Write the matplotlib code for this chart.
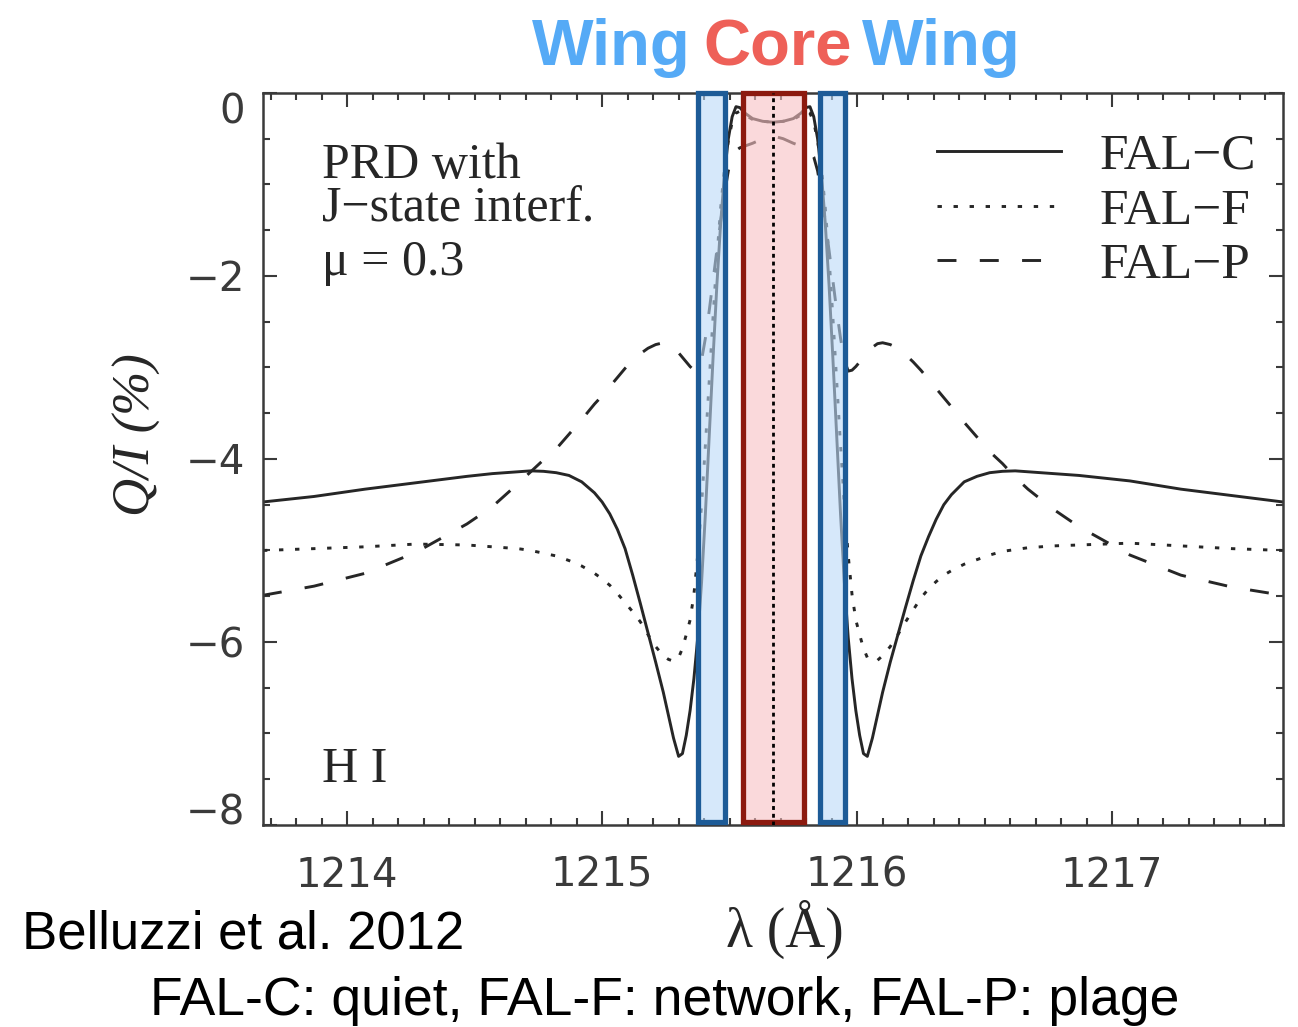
import numpy as np
import matplotlib.pyplot as plt
from matplotlib.patches import Rectangle
from matplotlib.ticker import MultipleLocator

# H I Lyman-alpha Q/I profiles at mu = 0.3 (PRD with J-state interference)
line_center = 1215.67

# offsets from line centre (A)
dlam = [-2.0, -1.8, -1.6, -1.4, -1.2, -1.1, -1.0, -0.95, -0.9, -0.85, -0.8, -0.75, -0.7,
        -0.67, -0.64, -0.61, -0.58, -0.55, -0.52, -0.49, -0.46, -0.43, -0.41, -0.39, -0.37,
        -0.355, -0.34, -0.325, -0.31, -0.295, -0.28, -0.265, -0.25, -0.235, -0.22, -0.205,
        -0.19, -0.175, -0.16, -0.145, -0.13, -0.11, -0.08, -0.04, 0.0,
        0.04, 0.08, 0.11, 0.13, 0.145, 0.16, 0.175, 0.19, 0.205, 0.22, 0.235, 0.25, 0.265,
        0.28, 0.295, 0.31, 0.325, 0.34, 0.355, 0.37, 0.39, 0.41, 0.43, 0.46, 0.49, 0.52,
        0.55, 0.58, 0.61, 0.64, 0.67, 0.7, 0.75, 0.8, 0.85, 0.9, 0.95, 1.0, 1.1, 1.2, 1.4,
        1.6, 1.8, 2.0]

fal_c = [-4.47, -4.41, -4.33, -4.26, -4.19, -4.16, -4.14, -4.13, -4.135, -4.15, -4.18, -4.25, -4.37,
         -4.47, -4.60, -4.77, -4.98, -5.27, -5.58, -5.90, -6.22, -6.55, -6.80, -7.05, -7.25,
         -7.22, -7.02, -6.75, -6.40, -5.95, -5.35, -4.60, -3.75, -2.90, -2.10, -1.42,
         -0.88, -0.50, -0.26, -0.15, -0.16, -0.22, -0.28, -0.31, -0.32,
         -0.31, -0.28, -0.22, -0.16, -0.15, -0.26, -0.50, -0.88, -1.42, -2.10, -2.90, -3.75, -4.60,
         -5.35, -5.95, -6.40, -6.75, -7.02, -7.22, -7.25, -7.05, -6.80, -6.55, -6.22, -5.92, -5.62,
         -5.33, -5.06, -4.85, -4.66, -4.50, -4.39, -4.25, -4.19, -4.15, -4.135, -4.13, -4.14, -4.16, -4.18, -4.24,
         -4.33, -4.40, -4.47]

fal_f = [-5.00, -4.98, -4.96, -4.93, -4.94, -4.96, -4.98, -5.00, -5.03, -5.06, -5.11, -5.17, -5.25,
         -5.31, -5.38, -5.47, -5.57, -5.67, -5.78, -5.92, -6.05, -6.15, -6.19, -6.21, -6.17,
         -6.07, -5.92, -5.76, -5.48, -5.05, -4.50, -3.85, -3.15, -2.45, -1.80, -1.25,
         -0.82, -0.52, -0.32, -0.22, -0.20, -0.24, -0.29, -0.31, -0.32,
         -0.31, -0.29, -0.24, -0.20, -0.22, -0.32, -0.52, -0.82, -1.25, -1.80, -2.45, -3.15, -3.85,
         -4.50, -5.05, -5.48, -5.76, -5.92, -6.07, -6.17, -6.21, -6.20, -6.15, -6.05, -5.92, -5.78,
         -5.65, -5.52, -5.42, -5.34, -5.27, -5.22, -5.15, -5.10, -5.05, -5.01, -4.99, -4.97, -4.95, -4.94, -4.92,
         -4.95, -4.98, -5.00]

fal_p = [-5.49, -5.39, -5.25, -5.02, -4.71, -4.52, -4.27, -4.14, -4.01, -3.89, -3.73, -3.57, -3.40,
         -3.31, -3.21, -3.11, -3.01, -2.92, -2.85, -2.79, -2.75, -2.73, -2.74, -2.78, -2.84,
         -2.89, -2.94, -2.99, -3.03, -3.04, -2.92, -2.68, -2.38, -2.05, -1.72, -1.40,
         -1.10, -0.85, -0.70, -0.63, -0.60, -0.58, -0.55, -0.50, -0.47,
         -0.50, -0.55, -0.58, -0.60, -0.63, -0.70, -0.85, -1.10, -1.40, -1.72, -2.05, -2.38, -2.68,
         -2.92, -3.04, -3.03, -2.99, -2.94, -2.89, -2.84, -2.78, -2.74, -2.73, -2.75, -2.79, -2.86,
         -2.94, -3.03, -3.13, -3.23, -3.33, -3.43, -3.60, -3.76, -3.92, -4.05, -4.20, -4.33, -4.55, -4.74, -5.05,
         -5.27, -5.40, -5.49]

# wavelength bands marked as wing / core
wing_bands = [(1215.375, 1215.482), (1215.854, 1215.952)]
core_band = (1215.552, 1215.790)

wavelength = line_center + np.array(dlam)

serif = 'Liberation Serif'
sans = 'Liberation Sans'
ink = '#262626'

fig = plt.figure(figsize=(12.98, 10.27), dpi=100)
ax = fig.add_axes([0.2026, 0.1967, 0.7858, 0.7128])

ax.plot(wavelength, fal_c, color=ink, lw=2.1, label='FAL\u2212C', zorder=2)
ax.plot(wavelength, fal_f, color=ink, lw=2.1, ls=(0, (1.5, 4.0)), label='FAL\u2212F', zorder=2)
ax.plot(wavelength, fal_p, color=ink, lw=2.1, ls=(0, (6.5, 8.0)), label='FAL\u2212P', zorder=2)

ax.set_xlim(line_center - 2.0, line_center + 2.0)
ax.set_ylim(-8, 0)

# shaded bands
for x0, x1 in wing_bands:
    ax.add_patch(Rectangle((x0, -7.97), x1 - x0, 7.97, facecolor=(187/255, 217/255, 248/255, 0.6),
                           edgecolor='#1d5b97', lw=3.8, zorder=3, clip_on=False))
ax.add_patch(Rectangle((core_band[0], -7.97), core_band[1] - core_band[0], 7.97,
                       facecolor=(247/255, 193/255, 195/255, 0.6),
                       edgecolor='#8c1a0f', lw=3.8, zorder=3, clip_on=False))
ax.axvline(line_center, color='black', lw=2.0, ls=(0, (1.4, 1.4)), zorder=4)

# axes styling
ax.set_xticks([1214, 1215, 1216, 1217])
ax.set_yticks([-8, -6, -4, -2, 0])
ax.xaxis.set_minor_locator(MultipleLocator(0.1))
ax.yaxis.set_minor_locator(MultipleLocator(0.5))
ax.tick_params(which='both', direction='in', top=True, right=True, color='#3a3a3a', width=1.5)
ax.tick_params(which='major', length=10)
ax.tick_params(which='minor', length=5)
ax.tick_params(axis='x', pad=22)
ax.tick_params(axis='y', pad=13)
for lab in ax.get_xticklabels() + ax.get_yticklabels():
    lab.set_fontfamily('DejaVu Sans')
    lab.set_fontsize(29)
    lab.set_color('#3a3a3a')
ylabels = ax.get_yticklabels()
ylabels[0].set_verticalalignment('baseline')
ylabels[-1].set_verticalalignment('top')
for sp in ax.spines.values():
    sp.set_linewidth(1.8)
    sp.set_color('#3a3a3a')

ax.set_ylabel('Q/I (%)', fontfamily=serif, fontstyle='italic', fontsize=38, color=ink)
ax.yaxis.set_label_coords(-0.10, 0.533)
ax.set_xlabel('\u03bb (\u00c5)', fontfamily=serif, fontsize=40, color=ink, va='top')
ax.xaxis.set_label_coords(0.512, -0.102)

ax.text(0.0578, 0.8839, 'PRD with', transform=ax.transAxes,
        fontfamily=serif, fontsize=36, color=ink, va='baseline', ha='left')
ax.text(0.0578, 0.8238, 'J\u2212state interf.', transform=ax.transAxes,
        fontfamily=serif, fontsize=36, color=ink, va='baseline', ha='left')
ax.text(0.0578, 0.7514, '\u03bc = 0.3', transform=ax.transAxes,
        fontfamily=serif, fontsize=36, color=ink, va='baseline', ha='left')
ax.text(0.0578, 0.0587, 'H I', transform=ax.transAxes, fontfamily=serif, fontsize=36,
        color=ink, va='baseline', ha='left')

leg = ax.legend(loc='upper right', bbox_to_anchor=(0.9735, 0.9454), frameon=False,
                prop={'family': serif, 'size': 37}, handlelength=2.43, handletextpad=0.74,
                labelspacing=0.15, borderpad=0, borderaxespad=0)
for t in leg.get_texts():
    t.set_color(ink)

# header words over the bands
fig.text(0.4707, 0.9367, 'Wing', color='#55aaf6', fontfamily=sans, fontweight='bold',
         fontsize=47, ha='center', va='baseline')
fig.text(0.5994, 0.9367, 'Core', color='#ee6058', fontfamily=sans, fontweight='bold',
         fontsize=47, ha='center', va='baseline')
fig.text(0.7250, 0.9367, 'Wing', color='#55aaf6', fontfamily=sans, fontweight='bold',
         fontsize=47, ha='center', va='baseline')

fig.text(0.017, 0.0769, 'Belluzzi et al. 2012', color='black', fontfamily=sans, fontsize=38,
         ha='left', va='baseline')
fig.text(0.512, 0.0117, 'FAL-C: quiet, FAL-F: network, FAL-P: plage', color='black',
         fontfamily=sans, fontsize=38.5, ha='center', va='baseline')

fig.savefig('out.png', dpi=100)
